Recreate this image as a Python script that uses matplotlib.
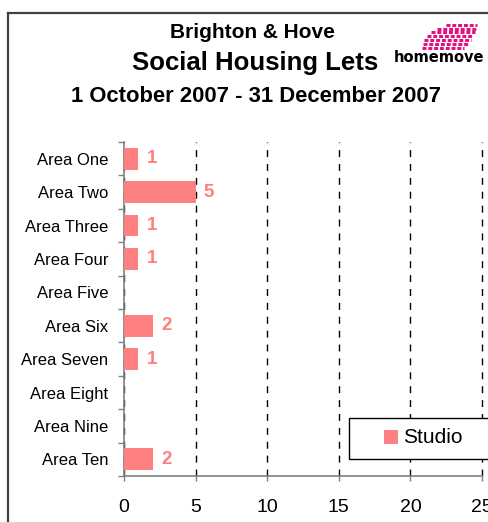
import matplotlib
matplotlib.use("Agg")
import numpy as np
import matplotlib.pyplot as plt
from matplotlib.lines import Line2D
from matplotlib.patches import Rectangle

plt.rcParams['font.family'] = ['Liberation Sans', 'DejaVu Sans']

areas = ["Area One", "Area Two", "Area Three", "Area Four", "Area Five",
         "Area Six", "Area Seven", "Area Eight", "Area Nine", "Area Ten"]
studio = [1, 5, 1, 1, 0, 2, 1, 0, 0, 2]
xticks = [0, 5, 10, 15, 20, 25]

bar_col = "#FF8080"
axis_grey = "#808080"

fig = plt.figure(figsize=(4.89, 5.22), dpi=100)
ax = fig.add_axes([124/489, 1 - 476/522, 358/489, 334/522])

y = np.arange(len(areas))
bars = ax.barh(y, studio, height=0.65, color=bar_col, linewidth=0, zorder=3)
labels = [str(v) if v else "" for v in studio]
ax.bar_label(bars, labels=labels, padding=6, color=bar_col,
             fontsize=13.5, fontweight="bold")

ax.set_ylim(len(areas) - 0.5, -0.5)
ax.set_xlim(0, 25)
ax.set_xticks(xticks)
ax.set_yticks(y)
ax.set_yticklabels(areas, fontsize=12)
ax.set_yticks(np.arange(-0.5, len(areas), 1), minor=True)
ax.tick_params(axis="y", which="major", length=0, pad=11.5)
ax.tick_params(axis="y", which="minor", length=4.5, width=1, color=axis_grey, direction="out")
ax.tick_params(axis="x", which="major", length=3.6, width=1, color=axis_grey,
               direction="out", labelsize=14, pad=13)

ax.xaxis.grid(True, color="black", linestyle=(0, (5, 5)), linewidth=1)
for gl in ax.get_xgridlines():
    gl.set_clip_on(False)
ax.set_axisbelow(True)
for s in ["top", "right"]:
    ax.spines[s].set_visible(False)
for s in ["left", "bottom"]:
    ax.spines[s].set_color(axis_grey)
    ax.spines[s].set_linewidth(1.2)

# legend box
ax.add_patch(Rectangle((0.628, 0.051), 0.5, 0.123, transform=ax.transAxes,
                       facecolor="white", edgecolor="black", linewidth=1,
                       clip_on=False, zorder=4))
ax.add_patch(Rectangle((0.726, 0.095), 0.039, 0.042, transform=ax.transAxes,
                       facecolor=bar_col, edgecolor="none", clip_on=False, zorder=5))
ax.text(0.780, 0.115, "Studio", transform=ax.transAxes, fontsize=15,
        va="center", ha="left", zorder=5)

# outer frame
fig.add_artist(Line2D([8/489, 1.0], [1 - 13/522, 1 - 13/522], color="#404040", linewidth=1.6))
fig.add_artist(Line2D([8/489, 8/489], [0, 1 - 13/522], color="#404040", linewidth=1.6))

# titles
fig.text(252/489, 1 - 33/522, "Brighton & Hove", ha="center", va="center",
         fontsize=15, fontweight="bold")
fig.text(255/489, 1 - 63/522, "Social Housing Lets", ha="center", va="center",
         fontsize=18.5, fontweight="bold")
fig.text(256/489, 1 - 97/522, "1 October 2007 - 31 December 2007", ha="center",
         va="center", fontsize=15.8, fontweight="bold")

# homemove logo
lax = fig.add_axes([412/489, 1 - 50/522, 72/489, 30/522])
lax.set_xlim(0, 72)
lax.set_ylim(0, 30)
lax.axis("off")
rows = [(10, 52), (9, 55), (9, 57), (10, 59), (13, 60), (17, 61), (24, 60)]
for i, (x0, x1) in enumerate(rows):
    yy = 2 + i * 3.9
    off = i * 1.6
    lax.plot([x0 + off, x1 + off * 0.5], [yy, yy], color="#E3127E",
             linewidth=2.2, linestyle=(0, (1.3, 0.6)), solid_capstyle="butt")
fig.text(439/489, 1 - 57/522, "homemove", ha="center", va="center",
         fontsize=10.5, fontweight="bold", family="DejaVu Sans")

fig.savefig("out.png", dpi=100)
plt.close(fig)
